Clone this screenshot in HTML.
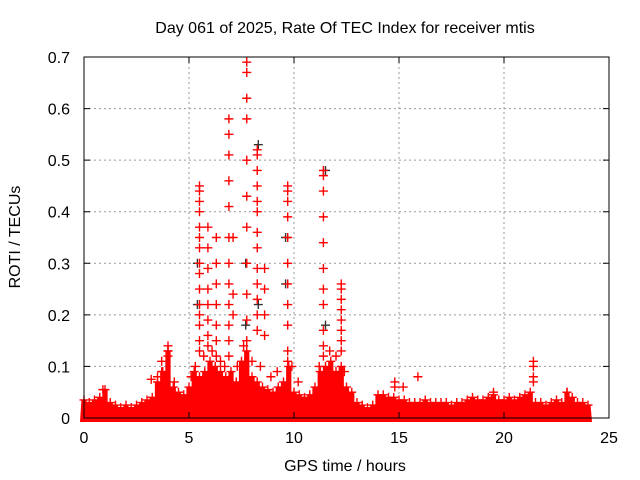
<!DOCTYPE html>
<html><head><meta charset="utf-8"><style>
body{margin:0;background:#fff}
svg{display:block;font-family:"Liberation Sans",sans-serif}
</style></head><body>
<svg id="chart" width="640" height="480">
<text x="345" y="33" text-anchor="middle" font-size="16">Day 061 of 2025, Rate Of TEC Index for receiver mtis</text>
<text transform="translate(20,237) rotate(-90)" text-anchor="middle" font-size="16">ROTI / TECUs</text>
<text x="345" y="471" text-anchor="middle" font-size="16">GPS time / hours</text>
<g id="grid"></g>
<g id="band"></g>
<g id="marks"></g>
<g id="axes"></g>
</svg>
<script>
const xTicks=[0,5,10,15,20,25];
const yTicks=[0,0.1,0.2,0.3,0.4,0.5,0.6,0.7];
const yTickLabels=["0","0.1","0.2","0.3","0.4","0.5","0.6","0.7"];
const bandStep=0.25;
const bandValues=[.035,.03,.035,.04,.055,.03,.025,.02,.025,.02,.025,.03,.035,.04,.07,.09,.13,.06,.05,.045,.06,.09,.08,.09,.11,.1,.09,.08,.09,.07,.11,.13,.08,.07,.06,.055,.05,.06,.07,.1,.05,.045,.04,.045,.06,.09,.1,.11,.09,.1,.06,.05,.03,.025,.02,.025,.045,.045,.04,.04,.035,.035,.03,.03,.03,.035,.03,.03,.03,.03,.025,.03,.03,.035,.04,.035,.035,.04,.045,.035,.035,.04,.035,.04,.045,.05,.03,.03,.025,.03,.035,.03,.05,.04,.03,.03,.025];
const redPoints=[[5.5,0.45],[5.5,0.44],[5.5,0.42],[5.5,0.40],[5.5,0.37],[5.5,0.35],[5.5,0.33],[5.5,0.30],[5.5,0.28],[5.5,0.25],[5.5,0.22],[5.5,0.20],[5.5,0.18],[5.5,0.15],[5.5,0.13],
[5.9,0.37],[5.9,0.33],[5.9,0.29],[5.9,0.25],[5.9,0.22],[5.9,0.19],[5.9,0.16],[5.9,0.14],
[6.3,0.35],[6.3,0.3],[6.3,0.26],[6.3,0.22],[6.3,0.18],[6.3,0.15],[6.3,0.12],
[6.9,0.58],[6.9,0.55],[6.9,0.51],[6.9,0.46],[6.9,0.41],[6.9,0.35],[6.9,0.30],[6.9,0.26],[6.9,0.22],[6.9,0.18],[6.9,0.15],[6.9,0.12],[7.1,0.35],[7.1,0.24],[7.1,0.2],
[7.75,0.69],[7.75,0.67],[7.75,0.62],[7.75,0.58],[7.75,0.5],[7.75,0.43],[7.75,0.37],[7.75,0.30],[7.75,0.24],[7.75,0.19],[7.75,0.15],
[8.25,0.52],[8.25,0.51],[8.25,0.48],[8.25,0.45],[8.25,0.42],[8.25,0.40],[8.25,0.36],[8.25,0.33],[8.25,0.29],[8.25,0.26],[8.25,0.23],[8.25,0.2],[8.25,0.17],
[8.6,0.29],[8.6,0.25],[8.6,0.2],[8.6,0.16],
[9.7,0.45],[9.7,0.44],[9.7,0.42],[9.7,0.39],[9.7,0.35],[9.7,0.30],[9.7,0.26],[9.7,0.22],[9.7,0.18],[9.7,0.13],[9.7,0.11],
[11.4,0.48],[11.4,0.47],[11.4,0.44],[11.4,0.39],[11.4,0.34],[11.4,0.29],[11.4,0.25],[11.4,0.22],[11.4,0.17],[11.4,0.14],[11.4,0.12],
[12.25,0.26],[12.25,0.25],[12.25,0.23],[12.25,0.21],[12.25,0.19],[12.25,0.17],[12.25,0.15],[12.25,0.13],
[3.7,0.11],[3.7,0.09],[4.0,0.14],[4.0,0.13],[4.0,0.12],[14.8,0.07],[14.8,0.06],[15.2,0.06],[15.9,0.08],[21.4,0.11],[21.4,0.1],[21.4,0.08],[21.4,0.07],[19.5,0.05],[23,0.05],[0.9,0.055],[3.2,0.075],
[5.3,0.1],[5.7,0.12],[6.1,0.13],[6.5,0.11],[7.3,0.1],[7.6,0.14],[8.0,0.11],[8.4,0.1],[8.9,0.08],[9.2,0.09],[9.9,0.1],[11.2,0.1],[11.7,0.13],[12.0,0.12],[12.4,0.09],[5.1,0.08],[6.7,0.1],[10.2,0.07],[3.5,0.08],[4.3,0.07]];
const blackPoints=[[5.4,0.3],[5.4,0.22],[8.3,0.53],[8.3,0.22],[9.6,0.35],[9.6,0.26],[11.5,0.48],[11.5,0.18],[7.7,0.3],[7.7,0.18]];
const L=84,R=609,T=57,B=418;
const xs=v=>L+v/25*(R-L), ys=v=>B-v/0.7*(B-T);
const NS="http://www.w3.org/2000/svg";
function mk(tag,attrs,parent){const e=document.createElementNS(NS,tag);for(const k in attrs)e.setAttribute(k,attrs[k]);parent.appendChild(e);return e;}
const grid=document.getElementById('grid'),axes=document.getElementById('axes'),band=document.getElementById('band'),marks=document.getElementById('marks');
xTicks.forEach((t,i)=>{const x=xs(t);
 if(i>0&&i<xTicks.length-1){const g=mk('line',{x1:x,x2:x,y1:T,y2:B,stroke:'#999','stroke-dasharray':'2,3'},grid);
 
 }
 const tk=mk('path',{d:`M${x},${B}v-6M${x},${T}v6`,stroke:'#000'},axes);
 
 
 const lb=mk('text',{x:x,y:B+25,'text-anchor':'middle','font-size':'16'},axes);lb.textContent=t;
 
 
});
yTicks.forEach((t,i)=>{const y=ys(t);
 if(i>0&&i<yTicks.length-1){const g=mk('line',{x1:L,x2:R,y1:y,y2:y,stroke:'#999','stroke-dasharray':'2,3'},grid);
 
 }
 const tk=mk('path',{d:`M${L},${y}h6M${R},${y}h-6`,stroke:'#000'},axes);
 
 
 const lb=mk('text',{x:L-14,y:y+6,'text-anchor':'end','font-size':'16'},axes);lb.textContent=yTickLabels[i];
 
 
});
const fr=mk('rect',{x:L,y:T,width:R-L,height:B-T,fill:'none',stroke:'#000'},axes);


let d=`M${xs(0)-4},${B+4}`;
bandValues.forEach((v,i)=>{const t=i*bandStep;d+=`L${xs(t)-2.6},${ys(v)}L${xs(t)+2.6},${ys(v)}`;});
d+=`L${xs((bandValues.length-1)*bandStep)+4},${B+4}Z`;
const bp=mk('path',{d:d,fill:'#f00'},band);


function plus(x,y,color,name){
 const e=mk('path',{d:`M${x-4.5},${y}h9M${x},${y-4.5}v9`,stroke:color,'stroke-width':'1.4'},marks);
 
 }
bandValues.forEach((v,i)=>plus(xs(i*bandStep),ys(v),'#f00','band-edge-point'));
blackPoints.forEach(p=>plus(xs(p[0]),ys(p[1]),'#333','black-point'));
redPoints.forEach(p=>plus(xs(p[0]),ys(p[1]),'#f00','red-point'));
</script>
</body></html>
